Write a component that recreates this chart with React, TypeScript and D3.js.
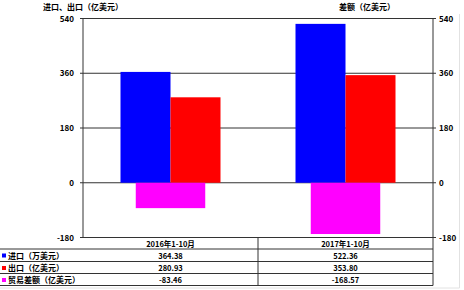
import React from "react";
import * as d3 from "d3";

const periods = ["2016年1-10月", "2017年1-10月"];
const imports = [364.38, 522.36];
const exports = [280.93, 353.8];
const balance = [-83.46, -168.57];
const yTicks = [-180, 0, 180, 360, 540];
const rowLabels = ["进口（万美元）", "出口（亿美元）", "贸易差额（亿美元）"];
const colors = ["#0000ff", "#ff0000", "#ff00ff"];
const leftTitle = "进口、出口（亿美元）";
const rightTitle = "差额（亿美元）";

const W = 464;
const H = 290;
const X0 = 83;
const X1 = 433;
const YTOP = 18.5;
const YBOT = 237.5;
const ROWS = [249, 261.5, 273.5, 285.5];
const FONT = "'Noto Sans CJK SC', 'DejaVu Sans', sans-serif";

export default function App() {
  const y = d3.scaleLinear().domain([-180, 540]).range([YBOT, YTOP]);
  const x = d3.scaleBand<string>().domain(periods).range([X0, X1]).padding(0);
  const inner = d3
    .scaleBand<string>()
    .domain(["imp", "exp"])
    .range([0, x.bandwidth()])
    .paddingInner(0)
    .paddingOuter(0.75);
  const balW = x.bandwidth() * 0.397;
  const locale = d3.formatLocale({
    decimal: ".",
    thousands: ",",
    grouping: [3],
    currency: ["", ""],
    minus: "-",
  });
  const fmt = locale.format(".2f");
  const series = [imports, exports, balance];
  const gridColor = "#333";

  return (
    <svg
      width={W}
      height={H}
      style={{ position: "absolute", left: 0, top: 0, background: "#fff" }}
      fontFamily={FONT}
    >
      <rect x={0} y={0} width={W} height={H} fill="#fff" />
      {/* faint outer frame */}
      <line x1={459.5} x2={459.5} y1={14} y2={288} stroke="#e2e2e2" />
      <line x1={0} x2={459.5} y1={288} y2={288} stroke="#e2e2e2" />
      {/* titles */}
      <text x={43} y={10} fontSize={8} fontWeight="bold" fill="#000">
        {leftTitle}
      </text>
      <text x={339} y={10} fontSize={8} fontWeight="bold" fill="#000">
        {rightTitle}
      </text>
      {/* grid lines */}
      {yTicks.map((t) => (
        <line
          key={"g" + t}
          x1={X0 - 3}
          x2={X1 + 3}
          y1={y(t)}
          y2={y(t)}
          stroke={gridColor}
          strokeWidth={1}
        />
      ))}
      {/* bars */}
      {periods.map((p, i) => (
        <g key={p}>
          <rect
            x={x(p)! + inner("imp")!}
            width={inner.bandwidth()}
            y={y(imports[i])}
            height={y(0) - y(imports[i])}
            fill={colors[0]}
          />
          <rect
            x={x(p)! + inner("exp")!}
            width={inner.bandwidth()}
            y={y(exports[i])}
            height={y(0) - y(exports[i])}
            fill={colors[1]}
          />
          <rect
            x={x(p)! + (x.bandwidth() - balW) / 2}
            width={balW}
            y={y(0)}
            height={y(balance[i]) - y(0)}
            fill={colors[2]}
          />
        </g>
      ))}
      {/* axes */}
      <line x1={X0} x2={X0} y1={YTOP} y2={YBOT} stroke={gridColor} />
      <line x1={X1} x2={X1} y1={YTOP} y2={YBOT} stroke={gridColor} />
      {yTicks.map((t) => (
        <g key={"t" + t}>
          <text
            x={74}
            y={y(t) + 3}
            fontSize={8}
            fontWeight="bold"
            textAnchor="end"
            fill="#000"
          >
            {t}
          </text>
          <text x={439} y={y(t) + 3} fontSize={8} fontWeight="bold" fill="#000">
            {t}
          </text>
        </g>
      ))}
      {/* table */}
      {ROWS.map((ry) => (
        <line key={"r" + ry} x1={0} x2={X1} y1={ry} y2={ry} stroke={gridColor} />
      ))}
      <line x1={x(periods[1])!} x2={x(periods[1])!} y1={YBOT} y2={ROWS[3]} stroke={gridColor} />
      <line x1={X1} x2={X1} y1={YBOT} y2={ROWS[3]} stroke={gridColor} />
      {periods.map((p) => (
        <text
          key={"h" + p}
          x={x(p)! + x.bandwidth() / 2}
          y={246.5}
          fontSize={7.5}
          fontWeight="bold"
          textAnchor="middle"
          fill="#000"
        >
          {p}
        </text>
      ))}
      {rowLabels.map((lab, r) => (
        <g key={lab}>
          <rect x={2} y={ROWS[r] + 4.5} width={4} height={4} fill={colors[r]} />
          <text x={8} y={ROWS[r] + 9.5} fontSize={8} fontWeight="bold" fill="#000">
            {lab}
          </text>
          {periods.map((p, i) => (
            <text
              key={p}
              x={x(p)! + x.bandwidth() / 2}
              y={ROWS[r] + 9.5}
              fontSize={7.5}
              fontWeight="bold"
              textAnchor="middle"
              fill="#000"
            >
              {fmt(series[r][i])}
            </text>
          ))}
        </g>
      ))}
    </svg>
  );
}
